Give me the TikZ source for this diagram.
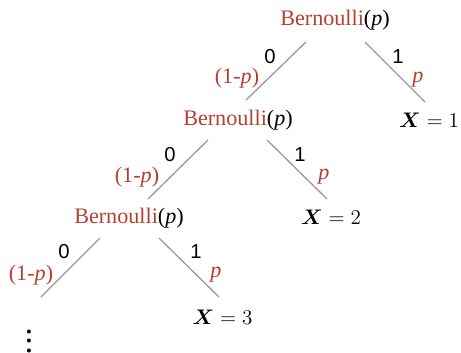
\documentclass[tikz,border=0pt]{standalone}
\usepackage{amsmath,bm,graphicx}
\usepackage[no-math]{fontspec}
\setmainfont{Liberation Serif}
\newfontfamily\bitfont{Liberation Sans}
\usetikzlibrary{calc}
\definecolor{bred}{HTML}{B5402F}
\definecolor{branchgray}{HTML}{9A9A9A}

\begin{document}
\begin{tikzpicture}[
        trial/.style  = {font=\fontsize{12.6}{15}\selectfont, text=bred,
                         inner sep=1pt},
        leaf/.style   = {font=\fontsize{12.6}{15}\selectfont, inner sep=1pt},
        bit/.style    = {font=\fontsize{11.5}{13}\bitfont, inner sep=0pt},
        prob/.style   = {font=\fontsize{12.6}{15}\selectfont, text=bred,
                         inner sep=0pt},
        branch/.style = {draw=branchgray, line width=0.75pt}
    ]
        \useasboundingbox (0,0) rectangle (9.22,7.04);

        % Bernoulli trials and outcomes
        \node[trial] (b1) at (6.70, 6.64)
            {Bernoulli\textcolor{black}{(\textit{p})}};
        \node[trial] (b2) at (4.76, 4.64)
            {Bernoulli\textcolor{black}{(\textit{p})}};
        \node[trial] (b3) at (2.58, 2.68)
            {Bernoulli\textcolor{black}{(\textit{p})}};
        \node[leaf] (x1) at (8.58, 4.64) {$\bm{X}=1$};
        \node[leaf] (x2) at (6.62, 2.70) {$\bm{X}=2$};
        \node[leaf] (x3) at (4.45, 0.70) {$\bm{X}=3$};
        \node[inner sep=0pt] (dots) at (0.58, 0.36)
            {\scalebox{1.35}{\fontsize{14}{16}\selectfont$\vdots$}};

        % branches
        \draw[branch] ($(b1)+(-0.58,-0.44)$) -- ($(b2)+(0.16,0.40)$);
        \draw[branch] ($(b1)+(0.60,-0.44)$)  -- ($(x1)+(-0.08,0.36)$);
        \draw[branch] ($(b2)+(-0.60,-0.40)$) -- ($(b3)+(0.38,0.38)$);
        \draw[branch] ($(b2)+(0.58,-0.40)$)  -- ($(x2)+(-0.08,0.36)$);
        \draw[branch] ($(b3)+(-0.58,-0.40)$) -- ($(dots)+(0.24,0.74)$);
        \draw[branch] ($(b3)+(0.60,-0.40)$)  -- ($(x3)+(-0.07,0.40)$);

        % labels
        \node[bit]  (z1) at (5.40, 5.90) {0};
        \node[prob] (q1) at (4.74, 5.48) {(1-\textit{p})};
        \node[bit]  (o1) at (7.96, 5.90) {1};
        \node[prob] (p1) at (8.36, 5.44) {\textit{p}};
        \node[bit]  (z2) at (3.40, 3.94) {0};
        \node[prob] (q2) at (2.74, 3.50) {(1-\textit{p})};
        \node[bit]  (o2) at (6.00, 3.94) {1};
        \node[prob] (p2) at (6.48, 3.50) {\textit{p}};
        \node[bit]  (z3) at (1.28, 2.00) {0};
        \node[prob] (q3) at (0.62, 1.54) {(1-\textit{p})};
        \node[bit]  (o3) at (3.92, 2.00) {1};
        \node[prob] (p3) at (4.32, 1.54) {\textit{p}};
    \end{tikzpicture}
\end{document}
